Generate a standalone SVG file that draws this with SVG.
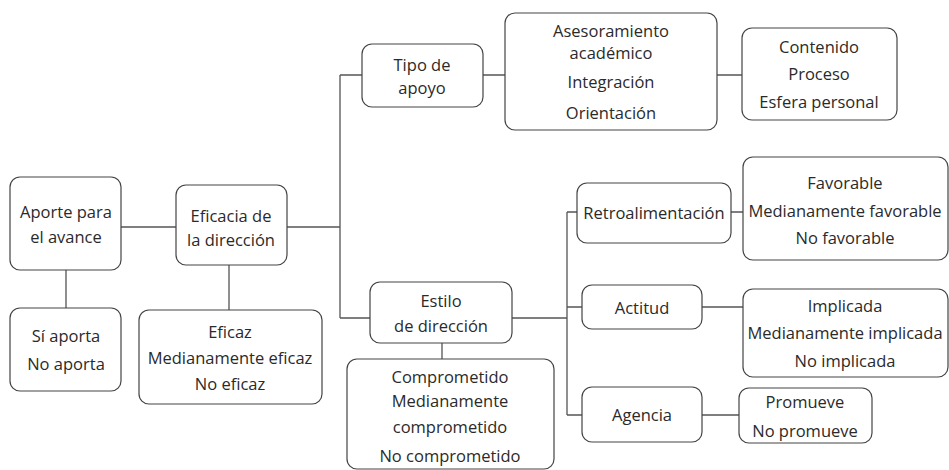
<svg xmlns="http://www.w3.org/2000/svg" width="949" height="470" viewBox="0 0 949 470">
<style>
.b{fill:#fff;stroke:#444;stroke-width:1.2}
.l{fill:none;stroke:#555;stroke-width:1.3}
text{font-family:"Open Sans","Liberation Sans",Arial,sans-serif;font-size:16.5px;fill:#2a2a2a;text-anchor:middle}
</style>
<rect width="949" height="470" fill="#fff"/>
<g id="connectors">
<path class="l" d="M121 227H176M287 227H340M340 75V318M340 75H362M340 318H370M483 75H505M717 75H742M66 270V308M229 265V310M442 343V359M512 318H567M567 212V415M567 212H577M567 307H582M567 415H582M731 212H743M702 307H743M702 415H739"/>
</g>
<g id="aporte"><rect class="b" x="10" y="177" width="111" height="93" rx="10"/><text x="66" y="218">Aporte para</text><text x="66" y="243">el avance</text></g>
<g id="si-aporta"><rect class="b" x="10" y="308" width="111" height="83" rx="10"/><text x="66" y="342">Sí aporta</text><text x="66" y="370">No aporta</text></g>
<g id="eficacia"><rect class="b" x="176" y="185" width="111" height="80" rx="10"/><text x="231" y="222">Eficacia de</text><text x="231" y="246">la dirección</text></g>
<g id="eficaz"><rect class="b" x="139" y="310" width="183" height="94" rx="10"/><text x="230" y="338">Eficaz</text><text x="230" y="364">Medianamente eficaz</text><text x="230" y="390">No eficaz</text></g>
<g id="tipo"><rect class="b" x="362" y="44" width="121" height="63" rx="10"/><text x="422" y="71">Tipo de</text><text x="422" y="94">apoyo</text></g>
<g id="asesoramiento"><rect class="b" x="505" y="13" width="212" height="117" rx="10"/><text x="611" y="37">Asesoramiento</text><text x="611" y="59">académico</text><text x="611" y="88">Integración</text><text x="611" y="119">Orientación</text></g>
<g id="contenido"><rect class="b" x="742" y="28" width="155" height="92" rx="10"/><text x="819" y="53">Contenido</text><text x="819" y="80">Proceso</text><text x="819" y="108">Esfera personal</text></g>
<g id="estilo"><rect class="b" x="370" y="282" width="142" height="61" rx="10"/><text x="441" y="307">Estilo</text><text x="441" y="332">de dirección</text></g>
<g id="comprometido"><rect class="b" x="347" y="359" width="207" height="110" rx="10"/><text x="450" y="383">Comprometido</text><text x="450" y="407">Medianamente</text><text x="450" y="433">comprometido</text><text x="450" y="462">No comprometido</text></g>
<g id="retro"><rect class="b" x="577" y="183" width="154" height="60" rx="10"/><text x="654" y="219">Retroalimentación</text></g>
<g id="favorable"><rect class="b" x="743" y="157" width="205" height="103" rx="10"/><text x="845" y="189">Favorable</text><text x="845" y="217">Medianamente favorable</text><text x="845" y="244">No favorable</text></g>
<g id="actitud"><rect class="b" x="582" y="285" width="120" height="44" rx="10"/><text x="642" y="314">Actitud</text></g>
<g id="implicada"><rect class="b" x="743" y="289" width="205" height="88" rx="10"/><text x="845" y="312">Implicada</text><text x="845" y="339">Medianamente implicada</text><text x="845" y="367">No implicada</text></g>
<g id="agencia"><rect class="b" x="582" y="387" width="120" height="55" rx="10"/><text x="642" y="421">Agencia</text></g>
<g id="promueve"><rect class="b" x="739" y="388" width="133" height="55" rx="10"/><text x="805" y="408">Promueve</text><text x="805" y="437">No promueve</text></g>
</svg>
